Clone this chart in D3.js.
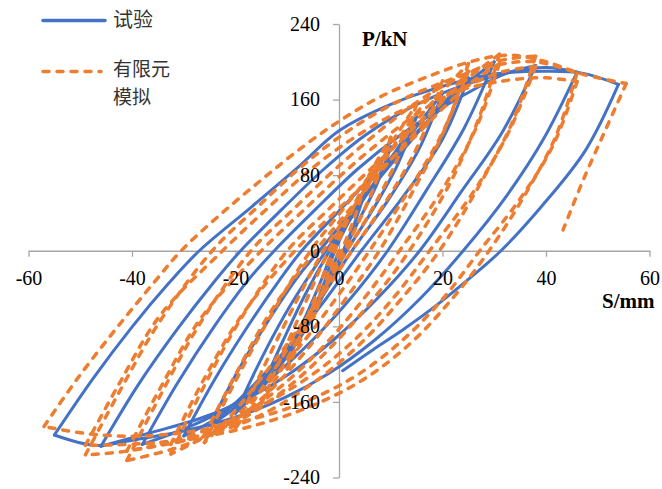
<!DOCTYPE html>
<html><head><meta charset="utf-8">
<script src="https://cdn.jsdelivr.net/npm/d3@7"></script>
<style>body{margin:0;background:#fff}svg{display:block}</style>
</head><body>
<svg id="c" width="662" height="489"></svg>
<script>
const xTicks=[-60,-40,-20,0,20,40,60];
const yTicks=[-240,-160,-80,0,80,160,240];
const seriesNames=["试验","有限元模拟"];

// Experimental (blue): each cycle = descending branch to the negative peak, then ascending branch to the positive peak
const blueCycle1=[[0,0],[-2.5,-35],[-5,-65],[-2.8,-33],[-0.8,0],[2,32],[5,62]];
const blueCycle2=[[5,62],[3.2,32],[0.8,0],[-2.5,-40],[-6.1,-80],[-10,-112],[-6.5,-70],[-3.5,-32],[-1.2,0],[2,34],[6,74],[10,110]];
const blueCycle3=[[10,110],[7.3,70],[4.1,35],[1,0],[-3.5,-50],[-8.5,-100],[-15,-146],[-10.8,-95],[-6.5,-46],[-1.8,0],[3,40],[8,82],[12,114],[15,142]];
const blueCycle4=[[15,142],[11.4,92],[6.7,45],[1.5,0],[-3.5,-50],[-9.1,-100],[-14.4,-140],[-20,-172],[-14.8,-112],[-9.3,-57],[-2.5,0],[3,42],[9,87],[14,124],[20,167]];
const blueCycle5=[[20,167],[15.4,107],[9.3,52],[2.5,0],[-3.4,-50],[-9.6,-100],[-16,-145],[-21,-170],[-25,-185],[-19.3,-125],[-13.2,-70],[-7.6,-25],[-3.8,0],[2,38],[8,78],[14,117],[19,149],[25,183]];
const blueCycle6=[[25,183],[20,118],[12.5,58],[4.3,0],[-2.4,-50],[-9.5,-100],[-17,-145],[-23,-175],[-30,-196],[-24,-136],[-17.75,-81],[-11.5,-31],[-7.2,0],[0,42],[7,82],[14,120],[20,152],[25,178],[30,200]];
const blueCycle7=[[30,200],[24.2,130],[17,65],[9.4,0],[2.3,-50],[-5.2,-95],[-13.2,-135],[-21.1,-165],[-29.2,-187],[-38,-205],[-31.2,-140],[-24.1,-80],[-17.4,-30],[-12.5,0],[-4.5,44],[3.5,86],[11.5,121],[19.5,150],[26.5,172],[32,187],[38,196]];
const blueCycle8=[[38,196],[31.6,126],[23.7,63],[15.6,0],[7.5,-50],[-1.2,-95],[-9.5,-130],[-17.9,-157],[-26.6,-177],[-36,-192],[-46,-207],[-38.8,-142],[-31.1,-82],[-24,-32],[-19,0],[-11,44],[-3,86],[5,122],[14,152],[24,175],[33,189],[40,194],[46,189]];
const blueCycle9=[[46,189],[39.6,119],[32.5,59],[24,0],[15.8,-50],[6.8,-95],[-2,-130],[-10.3,-155],[-19.4,-175],[-29.4,-190],[-39.4,-200],[-47,-206],[-55,-195],[-47.5,-135],[-39.9,-80],[-33,-35],[-27,0],[-17,46],[-8,88],[0,127],[10,155],[20,174],[30,187],[40,190],[47,188],[54,176]];
const blueFinal=[[54,176],[47.6,106],[39,46],[31.3,0],[25.5,-28],[19,-57],[12.5,-83],[6.5,-105],[0.7,-127]];

// Finite element simulation (orange)
const orangeCycle1=[[0,0],[-2.5,-36],[-5,-72],[-2.8,-36],[-0.8,0],[2,36],[5,70]];
const orangeCycle2=[[5,70],[3,35],[0.5,0],[-2.7,-40],[-6.2,-80],[-10,-125],[-6.8,-80],[-3.8,-38],[-1.3,0],[2,38],[6,82],[10,120]];
const orangeCycle3=[[10,120],[7.3,75],[4.2,35],[1,0],[-3.2,-45],[-7.8,-92],[-11.8,-132],[-15,-162],[-10.8,-108],[-6.5,-55],[-2,0],[3,48],[8,95],[12,130],[15,155]];
const orangeCycle4=[[15,155],[11.5,100],[6.8,48],[1.5,0],[-3.4,-45],[-8.6,-92],[-14.2,-140],[-20,-188],[-14.7,-125],[-9.3,-65],[-3,0],[3,48],[9,98],[14.5,142],[20,180]];
const orangeCycle5a=[[20,180],[15.6,115],[9.4,55],[2.5,0],[-3.6,-50],[-10.2,-100],[-17.2,-150],[-21.8,-180],[-26,-203],[-20.2,-140],[-13.5,-72],[-5.5,0],[0.5,42],[6.5,83],[12.5,122],[18.5,160],[25,198]];
const orangeCycle5b=[[25,198],[20.4,128],[14.2,62],[7.8,0],[1.4,-50],[-5.5,-100],[-13.3,-148],[-19.8,-178],[-26,-195],[-19.9,-130],[-12.9,-62],[-4.5,0],[1.5,40],[7.5,80],[13.5,118],[19.5,155],[25,190]];
const orangeCycle6a=[[25,190],[20,125],[13.4,63],[5.9,0],[-0.5,-50],[-7.4,-100],[-15,-148],[-22.2,-185],[-32.5,-215],[-26.5,-148],[-19.3,-75],[-10,0],[-2,44],[6,86],[13,122],[19.5,157],[25.5,185],[31,208]];
const orangeCycle6b=[[31,208],[27,140],[21.5,72],[13.6,0],[6.8,-50],[-1.2,-100],[-10,-145],[-19.5,-180],[-32.5,-205],[-26.3,-138],[-18.5,-66],[-8.5,0],[-0.5,42],[7.5,84],[14.5,120],[20.5,153],[26,180],[31,198]];
const orangeCycle7a=[[31,198],[26.5,130],[20,65],[11.7,0],[4.9,-50],[-2.8,-100],[-11.5,-145],[-21,-183],[-30.5,-207],[-41,-222],[-34.7,-155],[-27.2,-80],[-17,0],[-9,43],[-1,85],[7,123],[15,157],[23,183],[31,201],[38,206]];
const orangeCycle7b=[[38,206],[33.5,136],[27,68],[19.4,0],[12.2,-50],[4.2,-98],[-5,-140],[-15.5,-175],[-27.5,-198],[-41,-212],[-34.5,-145],[-26.5,-70],[-15,0],[-7,42],[1,83],[9,120],[17,152],[25,175],[32,190],[38,195]];
const orangeCycle8a=[[38,195],[33,128],[26.2,64],[17.5,0],[10.5,-50],[2.5,-97],[-7,-138],[-18,-172],[-30,-198],[-41,-212],[-49,-216],[-42.5,-150],[-35,-78],[-24.5,0],[-16,45],[-7.5,88],[1,124],[10,154],[20,178],[30,196],[38,200],[46,188]];
const orangeCycle8b=[[46,188],[41.8,120],[35.8,58],[29,0],[22,-50],[14,-97],[4.5,-137],[-7,-168],[-20,-190],[-35,-203],[-49,-206],[-42.4,-140],[-34.5,-68],[-22.5,0],[-14,44],[-5.5,86],[3,120],[12,148],[22,168],[32,180],[40,183],[46,179]];
const orangeCycle9=[[46,179],[41.5,113],[35,55],[27.2,0],[20.2,-50],[12,-96],[2.5,-135],[-9,-165],[-23,-186],[-37,-196],[-48,-194],[-57,-186],[-50.5,-135],[-43,-82],[-35.5,-32],[-30.5,0],[-23,38],[-15,75],[-7,110],[0,137],[8,163],[17.5,185],[26,201],[33,207],[40,200],[47,187],[55.5,177]];
const orangeFinal=[[55.5,177],[51.5,128],[47.2,75],[43.3,22]];

const blueCycles=[blueCycle1,blueCycle2,blueCycle3,blueCycle4,blueCycle5,blueCycle6,blueCycle7,blueCycle8,blueCycle9];
const orangeCycles=[orangeCycle1,orangeCycle2,orangeCycle3,orangeCycle4,orangeCycle5a,orangeCycle5b,orangeCycle6a,orangeCycle6b,orangeCycle7a,orangeCycle7b,orangeCycle8a,orangeCycle8b,orangeCycle9];

const BLUE="#4472C4", ORANGE="#ED7D31", AXIS="#a6a6a6";
const SERIF="'Liberation Serif','Times New Roman',serif";
const svg=d3.select("#c");
const x=d3.scaleLinear().domain([-60,60]).range([28.5,649.5]);
const y=d3.scaleLinear().domain([-240,240]).range([477.5,24]);

function drawAxes(labelsOnly){
  const gx=svg.append("g").attr("transform",`translate(0,${y(0)})`)
    .call(d3.axisBottom(x).tickValues(xTicks).tickSize(6).tickSizeOuter(0).tickPadding(14).tickFormat(d=>String(d)));
  const gy=svg.append("g").attr("transform",`translate(${x(0)},0)`)
    .call(d3.axisLeft(y).tickValues(yTicks).tickSize(6).tickSizeOuter(0).tickPadding(13).tickFormat(d=>String(d)));
  [gx,gy].forEach(g=>{
    g.attr("font-family",SERIF).attr("font-size",20);
    g.selectAll(".domain,.tick line").attr("stroke",labelsOnly?"none":AXIS).attr("stroke-width",1.3);
    g.selectAll("text").attr("font-family",SERIF).attr("font-size","20px").attr("fill",labelsOnly?"#000":"none");
  });
}
drawAxes(false);

// split a cycle at its negative peak (minimum displacement) into descending and ascending branches
function branches(cycle){
  const i=d3.minIndex(cycle,d=>d[0]);
  return [cycle.slice(0,i+1),cycle.slice(i)];
}
const line=d3.line().x(d=>x(d[0])).y(d=>y(d[1])).curve(d3.curveCatmullRom.alpha(0.5));

const blueBranches=blueCycles.flatMap(branches).concat([blueFinal]);
const orangeBranches=orangeCycles.flatMap(branches).concat([orangeFinal]);

svg.append("g").selectAll("path").data(blueBranches).join("path")
  .attr("d",line).attr("fill","none").attr("stroke",BLUE).attr("stroke-width",3)
  .attr("stroke-linejoin","round").attr("stroke-linecap","round");
svg.append("g").selectAll("path").data(orangeBranches).join("path")
  .attr("d",line).attr("fill","none").attr("stroke",ORANGE).attr("stroke-width",3.5)
  .attr("stroke-dasharray","6,8").attr("stroke-linecap","round").attr("stroke-linejoin","round");

drawAxes(true);

// axis titles
svg.append("text").attr("x",362).attr("y",46).text("P/kN")
  .attr("font-family",SERIF).attr("font-weight","bold").attr("font-size","21px");
svg.append("text").attr("x",602).attr("y",308).text("S/mm")
  .attr("font-family",SERIF).attr("font-weight","bold").attr("font-size","21px");

// legend
const lg=svg.append("g");
lg.append("line").attr("x1",43).attr("x2",105).attr("y1",20.5).attr("y2",20.5)
  .attr("stroke",BLUE).attr("stroke-width",3.5).attr("stroke-linecap","round");
lg.append("line").attr("x1",43).attr("x2",101).attr("y1",71.5).attr("y2",71.5)
  .attr("stroke",ORANGE).attr("stroke-width",3.5).attr("stroke-dasharray","6,8").attr("stroke-linecap","round");
const lf="'Noto Sans CJK SC','Noto Sans',sans-serif";
lg.append("text").attr("x",113).attr("y",27).text(seriesNames[0])
  .attr("font-family",lf).attr("font-size","20px").attr("fill","#333");
lg.append("text").attr("x",113).attr("y",76).text(seriesNames[1].slice(0,3))
  .attr("font-family",lf).attr("font-size","19px").attr("fill","#333");
lg.append("text").attr("x",113).attr("y",104).text(seriesNames[1].slice(3))
  .attr("font-family",lf).attr("font-size","19px").attr("fill","#333");
</script>
</body></html>
